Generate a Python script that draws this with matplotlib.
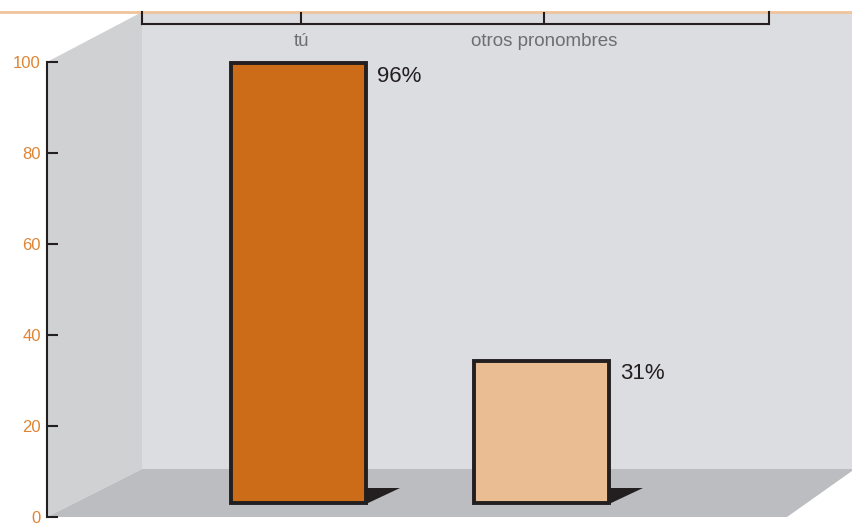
import numpy as np
import matplotlib
matplotlib.use("Agg")
import matplotlib.pyplot as plt
from matplotlib.patches import Polygon

plt.rcParams['font.family'] = ['Liberation Sans', 'DejaVu Sans']

# data
categories = ['tú', 'otros pronombres']
values = [96, 31]
bar_colors = ['#cc6c19', '#ebbd93']
y_ticks = [0, 20, 40, 60, 80, 100]

# layout in pixels (figure is 852 x 524)
W, H = 852, 524
CAT0, STEP = 298.5, 243        # pixel x of first category, spacing
WALL_L, WALL_R = 142, 769      # back wall left edge, top bracket right end
BASE_Y = 502.5                 # bar baseline pixel
PX_PER_UNIT = 439.5 / 96       # bar scale
EDGE = '#231f20'


def fx(x):
    return x / W


def fy(y):
    return 1 - y / H


def to_cat(x):
    return (x - CAT0) / STEP


fig = plt.figure(figsize=(8.52, 5.24), dpi=100)

# background "3d box" drawn in pixel coordinates
bg = fig.add_axes([0, 0, 1, 1])
bg.set_xlim(0, W)
bg.set_ylim(H, 0)
bg.axis('off')
bg.add_patch(Polygon([(WALL_L, 12), (W, 12), (W, 469), (WALL_L, 469)],
                     closed=True, fc='#dcdde0', ec='none'))
bg.add_patch(Polygon([(47, 62), (WALL_L, 12), (WALL_L, 469), (47, 517)],
                     closed=True, fc='#d0d1d3', ec='none'))
bg.add_patch(Polygon([(47, 517), (WALL_L, 469), (W, 469), (W, 471), (787, 517)],
                     closed=True, fc='#bcbdc0', ec='none'))
bg.plot([0, W], [11.5, 11.5], color='#efc49c', lw=2)

# bars
ax = fig.add_axes([fx(WALL_L), fy(BASE_Y), fx(WALL_R - WALL_L), (BASE_Y - 12) / H])
ax.set_xlim(to_cat(WALL_L), to_cat(WALL_R))
ax.set_ylim(0, (BASE_Y - 12) / PX_PER_UNIT)
ax.patch.set_visible(False)
ax.axis('off')

x = np.arange(len(categories))
width = 135 / STEP
ax.bar(x, values, width=width, color=bar_colors, edgecolor=EDGE,
       linewidth=2.8, zorder=3, clip_on=False)

sdx = 34 / STEP
sdy = 14.5 / PX_PER_UNIT
slow = 1.5 / PX_PER_UNIT
for i, v in enumerate(values):
    xr = x[i] + width / 2
    ax.add_patch(Polygon([(xr, sdy), (xr + sdx, sdy), (xr, -slow)],
                         closed=True, fc=EDGE, ec='none', zorder=2,
                         clip_on=False))
    ax.annotate(f'{v}%', xy=(xr, v), xytext=(8, -9.5),
                textcoords='offset points', ha='left', va='center',
                fontsize=16, color=EDGE)

# top category axis (bracket)
top = fig.add_axes([fx(WALL_L), fy(24), fx(WALL_R - WALL_L), 12 / H])
top.set_xlim(to_cat(WALL_L), to_cat(WALL_R))
top.patch.set_visible(False)
top.spines['top'].set_visible(False)
for s in ['bottom', 'left', 'right']:
    top.spines[s].set_color(EDGE)
    top.spines[s].set_linewidth(1.5)
top.set_yticks([])
top.set_xticks(x + 2.5 / STEP)
top.set_xticklabels(categories, fontsize=13.5, color='#6d6e71')
top.tick_params(axis='x', direction='in', length=8.6, width=1.5,
                color=EDGE, pad=6.5)

# left value axis
yax = fig.add_axes([fx(47), fy(517), fx(20), (517 - 62) / H])
yax.set_ylim(0, 100)
yax.patch.set_visible(False)
for s in ['top', 'bottom', 'right']:
    yax.spines[s].set_visible(False)
yax.spines['left'].set_color(EDGE)
yax.spines['left'].set_linewidth(1.5)
yax.set_xticks([])
yax.set_yticks(y_ticks)
yax.set_yticklabels([str(t) for t in y_ticks], fontsize=12, color='#e08434')
yax.tick_params(axis='y', direction='in', length=8, width=1.5,
                color=EDGE, pad=4.5)

fig.savefig('out.png', dpi=100)
